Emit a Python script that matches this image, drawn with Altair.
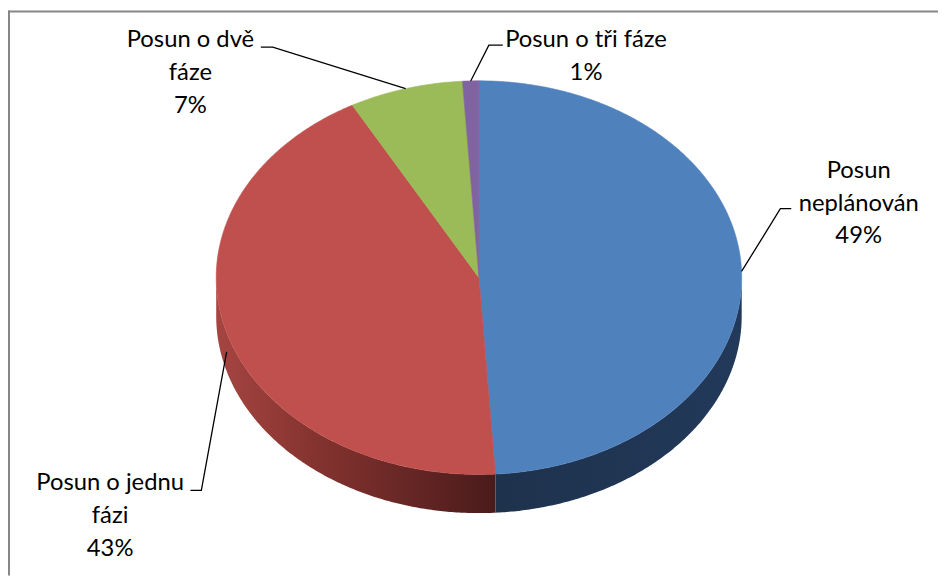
import altair as alt
import numpy as np
import pandas as pd

# ---- data ----
categories = ["Posun neplánován", "Posun o jednu fázi", "Posun o dvě fáze", "Posun o tři fáze"]
values = [49, 43, 7, 1]
label_lines = ["Posun\nneplánován", "Posun o jednu\nfázi", "Posun o dvě\nfáze", "Posun o tři fáze"]

# ---- styles / layout ----
top_colors = ["#4F81BD", "#C0504D", "#9BBB59", "#8064A2"]
side_fills = {
    0: alt.Gradient(gradient="linear", x1=0, x2=1, y1=0, y2=0,
                    stops=[alt.GradientStop(offset=0, color="#1E324C"),
                           alt.GradientStop(offset=1, color="#22395A")]),
    1: alt.Gradient(gradient="linear", x1=0, x2=1, y1=0, y2=0,
                    stops=[alt.GradientStop(offset=0, color="#A64542"),
                           alt.GradientStop(offset=0.35, color="#85332F"),
                           alt.GradientStop(offset=1, color="#4A1B1B")]),
}
CX, CY, RX, RY, DEPTH = 483, 277.5, 265, 198.5, 39
W, H = 938, 570
label_pos = [(866, 177), (111, 492), (192, 45), (591, 45)]
leader_bends = [[(787, 208), (798, 208)], [(203, 492), (192, 492)],
                [(275, 45), (263, 45)], [(493, 43), (507, 43)]]

xs = alt.Scale(domain=[8, 8 + W], nice=False, zero=False)
ys = alt.Scale(domain=[8, 8 + H], nice=False, zero=False, reverse=True)
X = alt.X("x:Q", scale=xs, axis=None)
Y = alt.Y("y:Q", scale=ys, axis=None)


def pt(theta_deg, drop=0.0):
    t = np.radians(theta_deg)
    return CX + RX * np.sin(t), CY - RY * np.cos(t) + drop


total = float(sum(values))
cum = np.concatenate([[0.0], np.cumsum(values) / total]) * 360.0

layers = []

# side walls (front half only)
for k in range(len(values)):
    s, e = max(cum[k], 90.0), min(cum[k + 1], 270.0)
    if e <= s or k not in side_fills:
        continue
    angs = np.linspace(s, e, int(e - s) * 2 + 2)
    rows = []
    i = 0
    for a in angs:
        x, y = pt(a)
        rows.append({"i": i, "x": x, "y": y}); i += 1
    for a in angs[::-1]:
        x, y = pt(a, DEPTH)
        rows.append({"i": i, "x": x, "y": y}); i += 1
    layers.append(alt.Chart(pd.DataFrame(rows)).mark_line(
        fill=side_fills[k], strokeWidth=0).encode(x=X, y=Y, order=alt.Order("i:Q")))

# top faces
for k in range(len(values)):
    s, e = cum[k], cum[k + 1]
    angs = np.linspace(s, e, max(int(e - s) * 2, 2) + 1)
    rows = [{"i": 0, "x": CX, "y": CY}]
    for j, a in enumerate(angs):
        x, y = pt(a)
        rows.append({"i": j + 1, "x": x, "y": y})
    rows.append({"i": len(angs) + 1, "x": CX, "y": CY})
    layers.append(alt.Chart(pd.DataFrame(rows)).mark_line(
        fill=top_colors[k], stroke=top_colors[k], strokeWidth=0.6,
        strokeJoin="round").encode(x=X, y=Y, order=alt.Order("i:Q")))

# leader lines
lrows = []
for k in range(len(values)):
    mid = (cum[k] + cum[k + 1]) / 2
    drop = DEPTH * 0.5 if np.cos(np.radians(mid)) < 0 else 0.0
    ax, ay = pt(mid, drop)
    pts = [(ax, ay)] + leader_bends[k]
    for i, (x, y) in enumerate(pts):
        lrows.append({"k": k, "i": i, "x": x, "y": y})
layers.append(alt.Chart(pd.DataFrame(lrows)).mark_line(
    color="black", strokeWidth=1.3).encode(
    x=X, y=Y, detail="k:N", order=alt.Order("i:Q")))

# labels
trows = []
for k in range(len(values)):
    trows.append({"x": label_pos[k][0], "y": label_pos[k][1],
                  "t": f"{label_lines[k]}\n{values[k]}%", "cat": categories[k]})
layers.append(alt.Chart(pd.DataFrame(trows)).mark_text(
    font="Lato", fontSize=24, color="black", align="center", baseline="alphabetic",
    lineBreak="\n", lineHeight=33).encode(x=X, y=Y, text="t:N"))

# chart-area border (left and top visible)
one = alt.Data(values=[{}])
layers.append(alt.Chart(one).mark_rule(color="#868686", strokeWidth=2).encode(
    x=alt.value(1), y=alt.value(0), y2=alt.value(H)))
layers.append(alt.Chart(one).mark_rule(color="#868686", strokeWidth=2).encode(
    x=alt.value(0), x2=alt.value(W), y=alt.value(1)))

chart = alt.layer(*layers).properties(
    width=W, height=H, padding=0,
    autosize=alt.AutoSizeParams(type="none"),
).configure_view(stroke=None)

chart.save("out.html", embed_options={"renderer": "svg", "actions": False})
